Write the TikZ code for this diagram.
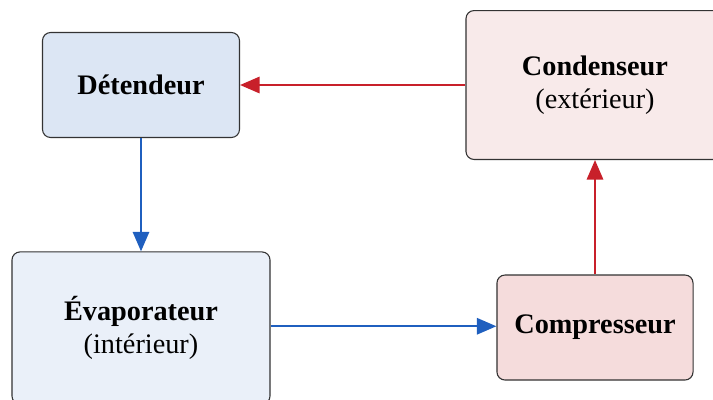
\documentclass[tikz,border=0pt]{standalone}
\usepackage{fontspec}
\setmainfont{Liberation Serif}
\usetikzlibrary{arrows.meta}
\definecolor{coldblue}{HTML}{1F5FBF}
\definecolor{hotred}{HTML}{C8202A}
\definecolor{detfill}{HTML}{DCE6F4}
\definecolor{evapfill}{HTML}{EAF0F9}
\definecolor{condfill}{HTML}{F8EAEA}
\definecolor{compfill}{HTML}{F5DCDC}
\begin{document}
\begin{tikzpicture}[x=0.46pt,y=-0.46pt,
  part/.style={draw=black!80,line width=0.5pt,rounded corners=3.7pt,align=center,font=\fontsize{13}{15}\selectfont},
  flow/.style={line width=1pt,-{Triangle[length=9pt,width=7.5pt]}}]
\clip (0,0) rectangle (713,399);
%
\node[part,fill=detfill,minimum width=90.6pt,minimum height=48.3pt] (det) at (141,85) {\textbf{Détendeur}};
\node[part,fill=condfill,minimum width=118.7pt,minimum height=68.5pt] (cond) at (595,85) {\textbf{Condenseur}\\(extérieur)};
\node[part,fill=evapfill,minimum width=118.7pt,minimum height=70pt] (evap) at (141,328) {\textbf{Évaporateur}\\(intérieur)};
\node[part,fill=compfill,minimum width=90.2pt,minimum height=48.3pt] (comp) at (595,327.5) {\textbf{Compresseur}};
%
\draw[flow,coldblue] (det.south) -- (det.south |- evap.north);
\draw[flow,coldblue] ([yshift=0.8pt]evap.east) -- ([yshift=0.8pt]evap.east -| comp.west);
\draw[flow,hotred] (comp.north) -- (cond.south);
\draw[flow,hotred] (cond.west) -- (det.east);
\end{tikzpicture}
\end{document}
